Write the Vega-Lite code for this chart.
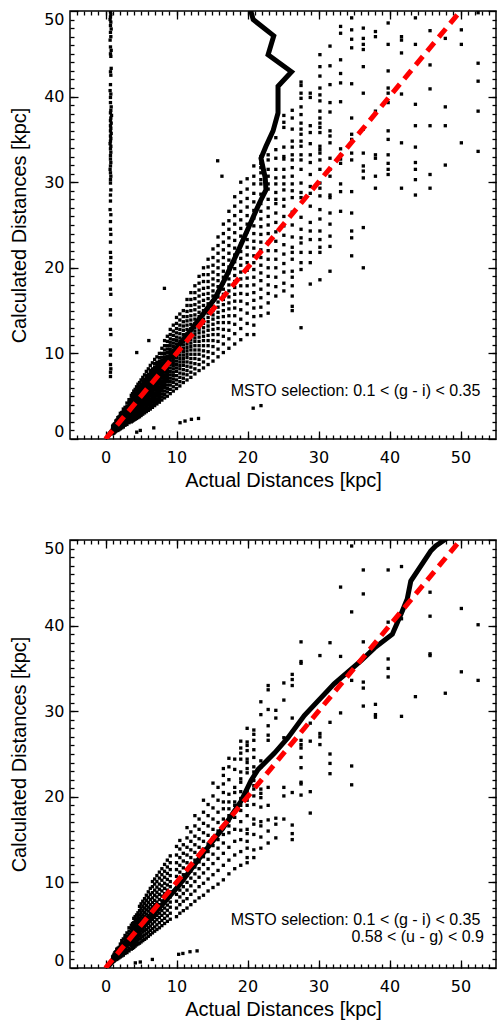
{
"$schema":"https://vega.github.io/schema/vega-lite/v6.json",
"padding":{"left":8,"top":9,"right":0,"bottom":0},
"spacing":101,
"bounds":"flush",
"config":{"view":{"stroke":"black","strokeWidth":1.5},"font":"Liberation Sans",
"axis":{"grid":false,"domain":false,"tickColor":"black","tickWidth":1.3,"labelColor":"black","titleColor":"black","labelFont":"DejaVu Sans","labelFontSize":16,"titleFont":"Liberation Sans","titleFontSize":20,"titleFontWeight":"normal"}},
"datasets":{
"top":[
{"x":0.7,"y":49.9},{"x":0.75,"y":49.6},{"x":0.7,"y":49.3},{"x":0.65,"y":49.0},{"x":0.75,"y":48.7},{"x":0.7,"y":48.3},{"x":0.8,"y":47.9},{"x":0.7,"y":47.5},{"x":0.75,"y":47.0},{"x":0.65,"y":46.6},{"x":0.7,"y":45.8},{"x":0.8,"y":45.4},{"x":0.7,"y":45.0},{"x":0.75,"y":44.7},{"x":0.8,"y":43.3},{"x":0.7,"y":42.9},{"x":0.75,"y":42.5},{"x":0.7,"y":41.4},{"x":0.65,"y":40.7},{"x":0.75,"y":40.3},{"x":0.7,"y":39.9},{"x":0.7,"y":39.3},{"x":0.8,"y":38.8},{"x":0.75,"y":38.4},{"x":0.7,"y":38.1},{"x":0.85,"y":37.8},{"x":0.75,"y":37.5},{"x":0.7,"y":37.2},{"x":0.8,"y":36.9},{"x":0.7,"y":36.6},{"x":0.75,"y":36.3},{"x":0.7,"y":36.0},{"x":0.8,"y":35.7},{"x":0.7,"y":35.4},{"x":0.75,"y":35.1},{"x":0.7,"y":34.8},{"x":0.65,"y":34.5},{"x":0.75,"y":34.2},{"x":0.7,"y":33.9},{"x":0.75,"y":33.5},{"x":0.7,"y":33.1},{"x":0.7,"y":32.7},{"x":0.75,"y":32.3},{"x":0.7,"y":31.9},{"x":0.65,"y":31.5},{"x":0.7,"y":31.1},{"x":0.75,"y":30.7},{"x":0.7,"y":30.3},{"x":0.7,"y":29.9},{"x":0.75,"y":29.1},{"x":0.7,"y":28.5},{"x":0.7,"y":27.8},{"x":0.65,"y":26.8},{"x":0.75,"y":26.2},{"x":0.7,"y":25.4},{"x":0.7,"y":24.5},{"x":0.75,"y":23.9},{"x":0.7,"y":23.0},{"x":0.7,"y":21.8},{"x":0.75,"y":21.2},{"x":0.7,"y":20.6},{"x":0.7,"y":19.8},{"x":0.65,"y":19.2},{"x":0.7,"y":18.6},{"x":0.7,"y":17.5},{"x":0.75,"y":16.9},{"x":0.7,"y":15.1},{"x":0.7,"y":14.5},{"x":0.7,"y":12.8},{"x":0.75,"y":12.2},{"x":0.7,"y":10.4},{"x":0.7,"y":9.8},{"x":0.7,"y":8.7},{"x":0.75,"y":8.2},{"x":0.7,"y":7.8},{"x":0.7,"y":7.3},
{"x":1.0,"y":0.6},{"x":1.0,"y":0.9},{"x":1.0,"y":1.2},{"x":1.0,"y":1.5},
{"x":1.1,"y":0.7},{"x":1.1,"y":1.0},{"x":1.1,"y":1.3},{"x":1.1,"y":1.6},
{"x":1.2,"y":0.7},{"x":1.2,"y":1.0},{"x":1.2,"y":1.3},{"x":1.2,"y":1.7},
{"x":1.32,"y":0.8},{"x":1.32,"y":1.1},{"x":1.32,"y":1.4},{"x":1.32,"y":1.8},
{"x":1.45,"y":0.9},{"x":1.45,"y":1.2},{"x":1.45,"y":1.5},{"x":1.45,"y":1.8},{"x":1.45,"y":2.1},
{"x":1.58,"y":1.0},{"x":1.58,"y":1.3},{"x":1.58,"y":1.6},{"x":1.58,"y":1.9},{"x":1.58,"y":2.2},
{"x":1.74,"y":1.0},{"x":1.74,"y":1.3},{"x":1.74,"y":1.6},{"x":1.74,"y":1.9},{"x":1.74,"y":2.2},{"x":1.74,"y":2.5},
{"x":1.91,"y":1.1},{"x":1.91,"y":1.4},{"x":1.91,"y":1.7},{"x":1.91,"y":2.0},{"x":1.91,"y":2.3},{"x":1.91,"y":2.6},
{"x":2.09,"y":1.2},{"x":2.09,"y":1.5},{"x":2.09,"y":1.8},{"x":2.09,"y":2.1},{"x":2.09,"y":2.4},{"x":2.09,"y":2.7},{"x":2.09,"y":3.0},
{"x":2.29,"y":1.3},{"x":2.29,"y":1.6},{"x":2.29,"y":1.9},{"x":2.29,"y":2.2},{"x":2.29,"y":2.5},{"x":2.29,"y":2.8},{"x":2.29,"y":3.1},
{"x":2.51,"y":1.4},{"x":2.51,"y":1.7},{"x":2.51,"y":2.0},{"x":2.51,"y":2.3},{"x":2.51,"y":2.6},{"x":2.51,"y":2.9},{"x":2.51,"y":3.2},{"x":2.51,"y":3.5},
{"x":2.75,"y":1.6},{"x":2.75,"y":1.9},{"x":2.75,"y":2.2},{"x":2.75,"y":2.5},{"x":2.75,"y":2.8},{"x":2.75,"y":3.1},{"x":2.75,"y":3.4},{"x":2.75,"y":3.7},
{"x":3.02,"y":1.7},{"x":3.02,"y":2.0},{"x":3.02,"y":2.3},{"x":3.02,"y":2.6},{"x":3.02,"y":2.9},{"x":3.02,"y":3.2},{"x":3.02,"y":3.5},{"x":3.02,"y":3.8},{"x":3.02,"y":4.2},
{"x":3.31,"y":1.9},{"x":3.31,"y":2.2},{"x":3.31,"y":2.5},{"x":3.31,"y":2.8},{"x":3.31,"y":3.1},{"x":3.31,"y":3.4},{"x":3.31,"y":3.7},{"x":3.31,"y":4.0},{"x":3.31,"y":4.3},{"x":3.31,"y":4.6},
{"x":3.63,"y":2.0},{"x":3.63,"y":2.3},{"x":3.63,"y":2.6},{"x":3.63,"y":2.9},{"x":3.63,"y":3.2},{"x":3.63,"y":3.5},{"x":3.63,"y":3.8},{"x":3.63,"y":4.1},{"x":3.63,"y":4.4},{"x":3.63,"y":4.7},{"x":3.63,"y":5.1},
{"x":3.8,"y":2.1},{"x":3.8,"y":2.45},{"x":3.8,"y":2.75},{"x":3.8,"y":3.05},{"x":3.8,"y":3.35},{"x":3.8,"y":3.65},{"x":3.8,"y":3.95},{"x":3.8,"y":4.25},{"x":3.8,"y":4.55},{"x":3.8,"y":4.85},{"x":3.8,"y":5.3},
{"x":3.98,"y":2.2},{"x":3.98,"y":2.5},{"x":3.98,"y":2.8},{"x":3.98,"y":3.1},{"x":3.98,"y":3.4},{"x":3.98,"y":3.7},{"x":3.98,"y":4.0},{"x":3.98,"y":4.3},{"x":3.98,"y":4.6},{"x":3.98,"y":4.9},{"x":3.98,"y":5.2},{"x":3.98,"y":5.6},
{"x":4.17,"y":2.3},{"x":4.17,"y":2.6},{"x":4.17,"y":2.9},{"x":4.17,"y":3.2},{"x":4.17,"y":3.5},{"x":4.17,"y":3.8},{"x":4.17,"y":4.1},{"x":4.17,"y":4.4},{"x":4.17,"y":4.7},{"x":4.17,"y":5.0},{"x":4.17,"y":5.3},{"x":4.17,"y":5.8},
{"x":4.37,"y":2.4},{"x":4.37,"y":2.7},{"x":4.37,"y":3.0},{"x":4.37,"y":3.3},{"x":4.37,"y":3.6},{"x":4.37,"y":3.9},{"x":4.37,"y":4.2},{"x":4.37,"y":4.5},{"x":4.37,"y":4.8},{"x":4.37,"y":5.1},{"x":4.37,"y":5.4},{"x":4.37,"y":5.7},{"x":4.37,"y":6.1},
{"x":4.57,"y":2.5},{"x":4.57,"y":2.85},{"x":4.57,"y":3.15},{"x":4.57,"y":3.45},{"x":4.57,"y":3.75},{"x":4.57,"y":4.05},{"x":4.57,"y":4.35},{"x":4.57,"y":4.65},{"x":4.57,"y":4.95},{"x":4.57,"y":5.25},{"x":4.57,"y":5.55},{"x":4.57,"y":5.85},{"x":4.57,"y":6.4},
{"x":4.79,"y":2.6},{"x":4.79,"y":2.9},{"x":4.79,"y":3.2},{"x":4.79,"y":3.5},{"x":4.79,"y":3.8},{"x":4.79,"y":4.1},{"x":4.79,"y":4.4},{"x":4.79,"y":4.7},{"x":4.79,"y":5.0},{"x":4.79,"y":5.3},{"x":4.79,"y":5.6},{"x":4.79,"y":5.9},{"x":4.79,"y":6.2},{"x":4.79,"y":6.6},
{"x":5.01,"y":2.75},{"x":5.01,"y":3.05},{"x":5.01,"y":3.35},{"x":5.01,"y":3.65},{"x":5.01,"y":3.95},{"x":5.01,"y":4.25},{"x":5.01,"y":4.55},{"x":5.01,"y":4.85},{"x":5.01,"y":5.15},{"x":5.01,"y":5.45},{"x":5.01,"y":5.75},{"x":5.01,"y":6.05},{"x":5.01,"y":6.35},{"x":5.01,"y":6.9},
{"x":5.25,"y":2.9},{"x":5.25,"y":3.2},{"x":5.25,"y":3.5},{"x":5.25,"y":3.8},{"x":5.25,"y":4.1},{"x":5.25,"y":4.4},{"x":5.25,"y":4.7},{"x":5.25,"y":5.0},{"x":5.25,"y":5.3},{"x":5.25,"y":5.6},{"x":5.25,"y":5.9},{"x":5.25,"y":6.2},{"x":5.25,"y":6.5},{"x":5.25,"y":6.8},{"x":5.25,"y":7.2},
{"x":5.5,"y":3.05},{"x":5.5,"y":3.35},{"x":5.5,"y":3.65},{"x":5.5,"y":3.95},{"x":5.5,"y":4.25},{"x":5.5,"y":4.55},{"x":5.5,"y":4.85},{"x":5.5,"y":5.15},{"x":5.5,"y":5.45},{"x":5.5,"y":5.75},{"x":5.5,"y":6.05},{"x":5.5,"y":6.35},{"x":5.5,"y":6.65},{"x":5.5,"y":6.95},{"x":5.5,"y":7.5},
{"x":5.75,"y":3.2},{"x":5.75,"y":3.5},{"x":5.75,"y":3.8},{"x":5.75,"y":4.1},{"x":5.75,"y":4.4},{"x":5.75,"y":4.7},{"x":5.75,"y":5.0},{"x":5.75,"y":5.3},{"x":5.75,"y":5.6},{"x":5.75,"y":5.9},{"x":5.75,"y":6.2},{"x":5.75,"y":6.5},{"x":5.75,"y":6.8},{"x":5.75,"y":7.1},{"x":5.75,"y":7.4},{"x":5.75,"y":7.9},
{"x":6.03,"y":3.35},{"x":6.03,"y":3.65},{"x":6.03,"y":3.95},{"x":6.03,"y":4.25},{"x":6.03,"y":4.55},{"x":6.03,"y":4.85},{"x":6.03,"y":5.15},{"x":6.03,"y":5.45},{"x":6.03,"y":5.75},{"x":6.03,"y":6.05},{"x":6.03,"y":6.35},{"x":6.03,"y":6.65},{"x":6.03,"y":6.95},{"x":6.03,"y":7.25},{"x":6.03,"y":7.55},{"x":6.03,"y":8.2},
{"x":6.31,"y":3.5},{"x":6.31,"y":3.8},{"x":6.31,"y":4.1},{"x":6.31,"y":4.4},{"x":6.31,"y":4.7},{"x":6.31,"y":5.0},{"x":6.31,"y":5.3},{"x":6.31,"y":5.6},{"x":6.31,"y":5.9},{"x":6.31,"y":6.2},{"x":6.31,"y":6.5},{"x":6.31,"y":6.8},{"x":6.31,"y":7.1},{"x":6.31,"y":7.4},{"x":6.31,"y":7.7},{"x":6.31,"y":8.0},{"x":6.31,"y":8.6},
{"x":6.61,"y":3.7},{"x":6.61,"y":4.0},{"x":6.61,"y":4.3},{"x":6.61,"y":4.6},{"x":6.61,"y":4.9},{"x":6.61,"y":5.2},{"x":6.61,"y":5.5},{"x":6.61,"y":5.8},{"x":6.61,"y":6.1},{"x":6.61,"y":6.4},{"x":6.61,"y":6.7},{"x":6.61,"y":7.0},{"x":6.61,"y":7.3},{"x":6.61,"y":7.6},{"x":6.61,"y":7.9},{"x":6.61,"y":8.2},{"x":6.61,"y":8.9},
{"x":6.92,"y":3.9},{"x":6.92,"y":4.2},{"x":6.92,"y":4.5},{"x":6.92,"y":4.8},{"x":6.92,"y":5.1},{"x":6.92,"y":5.4},{"x":6.92,"y":5.7},{"x":6.92,"y":6.0},{"x":6.92,"y":6.3},{"x":6.92,"y":6.6},{"x":6.92,"y":6.9},{"x":6.92,"y":7.2},{"x":6.92,"y":7.5},{"x":6.92,"y":7.8},{"x":6.92,"y":8.1},{"x":6.92,"y":8.4},{"x":6.92,"y":8.8},{"x":6.92,"y":9.3},
{"x":7.24,"y":4.1},{"x":7.24,"y":4.4},{"x":7.24,"y":4.7},{"x":7.24,"y":5.0},{"x":7.24,"y":5.3},{"x":7.24,"y":5.6},{"x":7.24,"y":5.9},{"x":7.24,"y":6.2},{"x":7.24,"y":6.5},{"x":7.24,"y":6.8},{"x":7.24,"y":7.1},{"x":7.24,"y":7.4},{"x":7.24,"y":7.7},{"x":7.24,"y":8.0},{"x":7.24,"y":8.3},{"x":7.24,"y":8.6},{"x":7.24,"y":8.95},{"x":7.24,"y":9.6},
{"x":7.59,"y":4.3},{"x":7.59,"y":4.6},{"x":7.59,"y":4.9},{"x":7.59,"y":5.2},{"x":7.59,"y":5.5},{"x":7.59,"y":5.8},{"x":7.59,"y":6.1},{"x":7.59,"y":6.4},{"x":7.59,"y":6.7},{"x":7.59,"y":7.0},{"x":7.59,"y":7.3},{"x":7.59,"y":7.6},{"x":7.59,"y":7.9},{"x":7.59,"y":8.2},{"x":7.59,"y":8.5},{"x":7.59,"y":8.8},{"x":7.59,"y":9.1},{"x":7.59,"y":9.5},{"x":7.59,"y":10.0},
{"x":7.94,"y":4.55},{"x":7.94,"y":4.9},{"x":7.94,"y":5.25},{"x":7.94,"y":5.6},{"x":7.94,"y":5.9},{"x":7.94,"y":6.2},{"x":7.94,"y":6.5},{"x":7.94,"y":6.8},{"x":7.94,"y":7.1},{"x":7.94,"y":7.4},{"x":7.94,"y":7.7},{"x":7.94,"y":8.0},{"x":7.94,"y":8.3},{"x":7.94,"y":8.6},{"x":7.94,"y":8.9},{"x":7.94,"y":9.2},{"x":7.94,"y":9.55},{"x":7.94,"y":10.0},{"x":7.94,"y":10.6},
{"x":8.32,"y":4.8},{"x":8.32,"y":5.2},{"x":8.32,"y":5.6},{"x":8.32,"y":6.0},{"x":8.32,"y":6.3},{"x":8.32,"y":6.6},{"x":8.32,"y":6.9},{"x":8.32,"y":7.2},{"x":8.32,"y":7.5},{"x":8.32,"y":7.8},{"x":8.32,"y":8.1},{"x":8.32,"y":8.4},{"x":8.32,"y":8.7},{"x":8.32,"y":9.0},{"x":8.32,"y":9.3},{"x":8.32,"y":9.6},{"x":8.32,"y":10.0},{"x":8.32,"y":10.4},{"x":8.32,"y":10.9},{"x":8.32,"y":11.5},
{"x":8.71,"y":5.0},{"x":8.71,"y":5.5},{"x":8.71,"y":5.9},{"x":8.71,"y":6.3},{"x":8.71,"y":6.7},{"x":8.71,"y":7.0},{"x":8.71,"y":7.3},{"x":8.71,"y":7.6},{"x":8.71,"y":7.9},{"x":8.71,"y":8.2},{"x":8.71,"y":8.5},{"x":8.71,"y":8.8},{"x":8.71,"y":9.1},{"x":8.71,"y":9.4},{"x":8.71,"y":9.7},{"x":8.71,"y":10.1},{"x":8.71,"y":10.5},{"x":8.71,"y":10.9},{"x":8.71,"y":11.4},{"x":8.71,"y":12.0},
{"x":9.12,"y":5.3},{"x":9.12,"y":5.8},{"x":9.12,"y":6.3},{"x":9.12,"y":6.7},{"x":9.12,"y":7.1},{"x":9.12,"y":7.5},{"x":9.12,"y":7.9},{"x":9.12,"y":8.3},{"x":9.12,"y":8.7},{"x":9.12,"y":9.0},{"x":9.12,"y":9.3},{"x":9.12,"y":9.6},{"x":9.12,"y":9.9},{"x":9.12,"y":10.2},{"x":9.12,"y":10.5},{"x":9.12,"y":10.9},{"x":9.12,"y":11.3},{"x":9.12,"y":11.7},{"x":9.12,"y":12.2},{"x":9.12,"y":12.8},
{"x":9.55,"y":5.6},{"x":9.55,"y":6.1},{"x":9.55,"y":6.6},{"x":9.55,"y":7.0},{"x":9.55,"y":7.4},{"x":9.55,"y":7.8},{"x":9.55,"y":8.2},{"x":9.55,"y":8.6},{"x":9.55,"y":8.9},{"x":9.55,"y":9.2},{"x":9.55,"y":9.5},{"x":9.55,"y":9.8},{"x":9.55,"y":10.1},{"x":9.55,"y":10.4},{"x":9.55,"y":10.8},{"x":9.55,"y":11.2},{"x":9.55,"y":11.6},{"x":9.55,"y":12.1},{"x":9.55,"y":12.6},{"x":9.55,"y":13.3},
{"x":10.0,"y":5.9},{"x":10.0,"y":6.4},{"x":10.0,"y":6.9},{"x":10.0,"y":7.4},{"x":10.0,"y":7.9},{"x":10.0,"y":8.3},{"x":10.0,"y":8.7},{"x":10.0,"y":9.1},{"x":10.0,"y":9.5},{"x":10.0,"y":9.9},{"x":10.0,"y":10.3},{"x":10.0,"y":10.7},{"x":10.0,"y":11.1},{"x":10.0,"y":11.5},{"x":10.0,"y":11.9},{"x":10.0,"y":12.4},{"x":10.0,"y":12.9},{"x":10.0,"y":13.5},{"x":10.0,"y":14.2},
{"x":10.47,"y":6.2},{"x":10.47,"y":6.7},{"x":10.47,"y":7.2},{"x":10.47,"y":7.7},{"x":10.47,"y":8.2},{"x":10.47,"y":8.6},{"x":10.47,"y":9.0},{"x":10.47,"y":9.4},{"x":10.47,"y":9.8},{"x":10.47,"y":10.2},{"x":10.47,"y":10.6},{"x":10.47,"y":11.0},{"x":10.47,"y":11.4},{"x":10.47,"y":11.8},{"x":10.47,"y":12.3},{"x":10.47,"y":12.8},{"x":10.47,"y":13.3},{"x":10.47,"y":13.9},{"x":10.47,"y":14.6},
{"x":10.96,"y":6.6},{"x":10.96,"y":7.1},{"x":10.96,"y":7.6},{"x":10.96,"y":8.1},{"x":10.96,"y":8.6},{"x":10.96,"y":9.0},{"x":10.96,"y":9.4},{"x":10.96,"y":9.8},{"x":10.96,"y":10.2},{"x":10.96,"y":10.6},{"x":10.96,"y":11.0},{"x":10.96,"y":11.4},{"x":10.96,"y":11.8},{"x":10.96,"y":12.2},{"x":10.96,"y":12.7},{"x":10.96,"y":13.2},{"x":10.96,"y":13.7},{"x":10.96,"y":14.3},{"x":10.96,"y":15.0},
{"x":11.48,"y":6.9},{"x":11.48,"y":7.5},{"x":11.48,"y":8.0},{"x":11.48,"y":8.5},{"x":11.48,"y":9.0},{"x":11.48,"y":9.5},{"x":11.48,"y":9.9},{"x":11.48,"y":10.3},{"x":11.48,"y":10.7},{"x":11.48,"y":11.1},{"x":11.48,"y":11.5},{"x":11.48,"y":11.9},{"x":11.48,"y":12.3},{"x":11.48,"y":12.8},{"x":11.48,"y":13.3},{"x":11.48,"y":13.8},{"x":11.48,"y":14.3},{"x":11.48,"y":14.9},{"x":11.48,"y":15.6},{"x":11.48,"y":16.3},
{"x":12.02,"y":7.2},{"x":12.02,"y":7.8},{"x":12.02,"y":8.4},{"x":12.02,"y":8.9},{"x":12.02,"y":9.4},{"x":12.02,"y":9.9},{"x":12.02,"y":10.4},{"x":12.02,"y":10.8},{"x":12.02,"y":11.2},{"x":12.02,"y":11.6},{"x":12.02,"y":12.0},{"x":12.02,"y":12.4},{"x":12.02,"y":12.9},{"x":12.02,"y":13.4},{"x":12.02,"y":13.9},{"x":12.02,"y":14.4},{"x":12.02,"y":15.0},{"x":12.02,"y":15.6},{"x":12.02,"y":16.3},{"x":12.02,"y":17.1},
{"x":12.59,"y":7.6},{"x":12.59,"y":8.2},{"x":12.59,"y":8.8},{"x":12.59,"y":9.4},{"x":12.59,"y":9.9},{"x":12.59,"y":10.4},{"x":12.59,"y":10.9},{"x":12.59,"y":11.4},{"x":12.59,"y":11.8},{"x":12.59,"y":12.2},{"x":12.59,"y":12.6},{"x":12.59,"y":13.0},{"x":12.59,"y":13.5},{"x":12.59,"y":14.0},{"x":12.59,"y":14.5},{"x":12.59,"y":15.1},{"x":12.59,"y":15.7},{"x":12.59,"y":16.4},{"x":12.59,"y":17.1},{"x":12.59,"y":17.9},
{"x":13.18,"y":8.0},{"x":13.18,"y":8.7},{"x":13.18,"y":9.3},{"x":13.18,"y":9.9},{"x":13.18,"y":10.4},{"x":13.18,"y":10.9},{"x":13.18,"y":11.4},{"x":13.18,"y":11.9},{"x":13.18,"y":12.4},{"x":13.18,"y":12.8},{"x":13.18,"y":13.3},{"x":13.18,"y":13.8},{"x":13.18,"y":14.3},{"x":13.18,"y":14.8},{"x":13.18,"y":15.4},{"x":13.18,"y":16.0},{"x":13.18,"y":16.7},{"x":13.18,"y":17.4},{"x":13.18,"y":18.2},{"x":13.18,"y":19.0},
{"x":13.8,"y":8.3},{"x":13.8,"y":9.0},{"x":13.8,"y":9.7},{"x":13.8,"y":10.3},{"x":13.8,"y":10.9},{"x":13.8,"y":11.5},{"x":13.8,"y":12.0},{"x":13.8,"y":12.5},{"x":13.8,"y":13.0},{"x":13.8,"y":13.5},{"x":13.8,"y":14.0},{"x":13.8,"y":14.5},{"x":13.8,"y":15.0},{"x":13.8,"y":15.6},{"x":13.8,"y":16.2},{"x":13.8,"y":16.9},{"x":13.8,"y":17.6},{"x":13.8,"y":18.4},{"x":13.8,"y":19.2},{"x":13.8,"y":20.0},
{"x":14.45,"y":8.7},{"x":14.45,"y":9.5},{"x":14.45,"y":10.2},{"x":14.45,"y":10.9},{"x":14.45,"y":11.5},{"x":14.45,"y":12.1},{"x":14.45,"y":12.7},{"x":14.45,"y":13.2},{"x":14.45,"y":13.7},{"x":14.45,"y":14.2},{"x":14.45,"y":14.7},{"x":14.45,"y":15.2},{"x":14.45,"y":15.8},{"x":14.45,"y":16.4},{"x":14.45,"y":17.0},{"x":14.45,"y":17.7},{"x":14.45,"y":18.4},{"x":14.45,"y":19.2},{"x":14.45,"y":20.1},{"x":14.45,"y":21.0},
{"x":15.14,"y":9.1},{"x":15.14,"y":10.0},{"x":15.14,"y":10.8},{"x":15.14,"y":11.5},{"x":15.14,"y":12.2},{"x":15.14,"y":12.8},{"x":15.14,"y":13.4},{"x":15.14,"y":14.0},{"x":15.14,"y":14.5},{"x":15.14,"y":15.0},{"x":15.14,"y":15.5},{"x":15.14,"y":16.1},{"x":15.14,"y":16.7},{"x":15.14,"y":17.3},{"x":15.14,"y":18.0},{"x":15.14,"y":18.7},{"x":15.14,"y":19.5},{"x":15.14,"y":20.3},{"x":15.14,"y":21.2},{"x":15.14,"y":22.2},
{"x":15.85,"y":9.6},{"x":15.85,"y":10.5},{"x":15.85,"y":11.4},{"x":15.85,"y":12.2},{"x":15.85,"y":12.9},{"x":15.85,"y":13.6},{"x":15.85,"y":14.2},{"x":15.85,"y":14.8},{"x":15.85,"y":15.4},{"x":15.85,"y":16.0},{"x":15.85,"y":16.6},{"x":15.85,"y":17.2},{"x":15.85,"y":17.8},{"x":15.85,"y":18.5},{"x":15.85,"y":19.2},{"x":15.85,"y":20.0},{"x":15.85,"y":20.8},{"x":15.85,"y":21.7},{"x":15.85,"y":22.6},{"x":15.85,"y":23.6},
{"x":16.6,"y":10.1},{"x":16.6,"y":11.1},{"x":16.6,"y":12.0},{"x":16.6,"y":12.8},{"x":16.6,"y":13.6},{"x":16.6,"y":14.3},{"x":16.6,"y":15.0},{"x":16.6,"y":15.7},{"x":16.6,"y":16.3},{"x":16.6,"y":16.9},{"x":16.6,"y":17.5},{"x":16.6,"y":18.2},{"x":16.6,"y":18.9},{"x":16.6,"y":19.6},{"x":16.6,"y":20.4},{"x":16.6,"y":21.2},{"x":16.6,"y":22.1},{"x":16.6,"y":23.0},{"x":16.6,"y":24.0},{"x":16.6,"y":25.1},
{"x":17.38,"y":10.6},{"x":17.38,"y":11.7},{"x":17.38,"y":12.7},{"x":17.38,"y":13.6},{"x":17.38,"y":14.4},{"x":17.38,"y":15.2},{"x":17.38,"y":15.9},{"x":17.38,"y":16.6},{"x":17.38,"y":17.3},{"x":17.38,"y":18.0},{"x":17.38,"y":18.7},{"x":17.38,"y":19.4},{"x":17.38,"y":20.1},{"x":17.38,"y":20.9},{"x":17.38,"y":21.7},{"x":17.38,"y":22.6},{"x":17.38,"y":23.5},{"x":17.38,"y":24.5},{"x":17.38,"y":25.5},{"x":17.38,"y":26.6},
{"x":18.2,"y":11.1},{"x":18.2,"y":12.3},{"x":18.2,"y":13.4},{"x":18.2,"y":14.4},{"x":18.2,"y":15.3},{"x":18.2,"y":16.1},{"x":18.2,"y":16.9},{"x":18.2,"y":17.7},{"x":18.2,"y":18.4},{"x":18.2,"y":19.1},{"x":18.2,"y":19.9},{"x":18.2,"y":20.7},{"x":18.2,"y":21.5},{"x":18.2,"y":22.3},{"x":18.2,"y":23.2},{"x":18.2,"y":24.1},{"x":18.2,"y":25.1},{"x":18.2,"y":26.1},{"x":18.2,"y":27.2},{"x":18.2,"y":28.3},
{"x":19.05,"y":11.6},{"x":19.05,"y":12.9},{"x":19.05,"y":14.0},{"x":19.05,"y":15.1},{"x":19.05,"y":16.1},{"x":19.05,"y":17.0},{"x":19.05,"y":17.9},{"x":19.05,"y":18.7},{"x":19.05,"y":19.5},{"x":19.05,"y":20.3},{"x":19.05,"y":21.1},{"x":19.05,"y":21.9},{"x":19.05,"y":22.8},{"x":19.05,"y":23.7},{"x":19.05,"y":24.6},{"x":19.05,"y":25.6},{"x":19.05,"y":26.6},{"x":19.05,"y":27.7},{"x":19.05,"y":28.8},{"x":19.05,"y":30.0},
{"x":19.95,"y":12.2},{"x":19.95,"y":13.5},{"x":19.95,"y":14.7},{"x":19.95,"y":15.8},{"x":19.95,"y":16.9},{"x":19.95,"y":17.9},{"x":19.95,"y":18.8},{"x":19.95,"y":19.7},{"x":19.95,"y":20.6},{"x":19.95,"y":21.5},{"x":19.95,"y":22.4},{"x":19.95,"y":23.3},{"x":19.95,"y":24.2},{"x":19.95,"y":25.1},{"x":19.95,"y":26.1},{"x":19.95,"y":27.1},{"x":19.95,"y":28.1},{"x":19.95,"y":29.2},{"x":19.95,"y":30.4},
{"x":20.89,"y":12.2},{"x":20.89,"y":13.3},{"x":20.89,"y":14.3},{"x":20.89,"y":15.3},{"x":20.89,"y":16.2},{"x":20.89,"y":17.1},{"x":20.89,"y":18.0},{"x":20.89,"y":18.9},{"x":20.89,"y":19.8},{"x":20.89,"y":20.6},{"x":20.89,"y":21.4},{"x":20.89,"y":22.3},{"x":20.89,"y":23.1},{"x":20.89,"y":24.0},{"x":20.89,"y":24.9},{"x":20.89,"y":25.8},{"x":20.89,"y":26.7},{"x":20.89,"y":27.7},{"x":20.89,"y":28.7},{"x":20.89,"y":29.8},{"x":20.89,"y":30.7},{"x":20.89,"y":31.9},
{"x":21.88,"y":14.4},{"x":21.88,"y":15.4},{"x":21.88,"y":16.5},{"x":21.88,"y":17.5},{"x":21.88,"y":18.5},{"x":21.88,"y":19.4},{"x":21.88,"y":20.3},{"x":21.88,"y":21.2},{"x":21.88,"y":22.1},{"x":21.88,"y":23.0},{"x":21.88,"y":23.9},{"x":21.88,"y":24.8},{"x":21.88,"y":25.7},{"x":21.88,"y":26.6},{"x":21.88,"y":27.5},{"x":21.88,"y":28.6},{"x":21.88,"y":29.8},{"x":21.88,"y":30.3},{"x":21.88,"y":31.1},{"x":21.88,"y":31.7},{"x":21.88,"y":32.2},{"x":21.88,"y":33.0},
{"x":22.91,"y":14.7},{"x":22.91,"y":15.9},{"x":22.91,"y":17.0},{"x":22.91,"y":18.0},{"x":22.91,"y":19.0},{"x":22.91,"y":20.0},{"x":22.91,"y":21.0},{"x":22.91,"y":22.0},{"x":22.91,"y":23.0},{"x":22.91,"y":24.0},{"x":22.91,"y":25.0},{"x":22.91,"y":26.0},{"x":22.91,"y":27.0},{"x":22.91,"y":28.0},{"x":22.91,"y":29.2},{"x":22.91,"y":29.8},{"x":22.91,"y":30.7},{"x":22.91,"y":31.5},{"x":22.91,"y":32.6},{"x":22.91,"y":33.2},
{"x":23.99,"y":16.7},{"x":23.99,"y":17.8},{"x":23.99,"y":18.9},{"x":23.99,"y":20.0},{"x":23.99,"y":21.0},{"x":23.99,"y":22.0},{"x":23.99,"y":23.1},{"x":23.99,"y":24.2},{"x":23.99,"y":25.3},{"x":23.99,"y":26.4},{"x":23.99,"y":27.5},{"x":23.99,"y":28.0},{"x":23.99,"y":28.8},{"x":23.99,"y":29.8},{"x":23.99,"y":30.5},{"x":23.99,"y":31.5},{"x":23.99,"y":32.8},{"x":23.99,"y":33.8},{"x":23.99,"y":35.2},
{"x":25.12,"y":17.3},{"x":25.12,"y":18.2},{"x":25.12,"y":19.5},{"x":25.12,"y":20.5},{"x":25.12,"y":21.6},{"x":25.12,"y":22.7},{"x":25.12,"y":23.8},{"x":25.12,"y":24.9},{"x":25.12,"y":26.0},{"x":25.12,"y":27.2},{"x":25.12,"y":28.0},{"x":25.12,"y":29.1},{"x":25.12,"y":29.8},{"x":25.12,"y":30.6},{"x":25.12,"y":31.5},{"x":25.12,"y":32.7},{"x":25.12,"y":33.0},{"x":25.12,"y":34.1},{"x":25.12,"y":36.4},{"x":25.12,"y":37.0},{"x":25.12,"y":37.8},
{"x":26.3,"y":15.0},{"x":26.3,"y":15.5},{"x":26.3,"y":16.7},{"x":26.3,"y":17.9},{"x":26.3,"y":18.9},{"x":26.3,"y":19.6},{"x":26.3,"y":21.0},{"x":26.3,"y":21.8},{"x":26.3,"y":22.4},{"x":26.3,"y":23.6},{"x":26.3,"y":25.0},{"x":26.3,"y":26.5},{"x":26.3,"y":28.2},{"x":26.3,"y":29.0},{"x":26.3,"y":29.8},{"x":26.3,"y":30.7},{"x":26.3,"y":31.7},{"x":26.3,"y":32.6},{"x":26.3,"y":33.2},{"x":26.3,"y":34.1},{"x":26.3,"y":34.8},{"x":26.3,"y":36.2},{"x":26.3,"y":37.5},{"x":26.3,"y":38.4},
{"x":27.54,"y":13.0},{"x":27.54,"y":19.8},{"x":27.54,"y":20.6},{"x":27.54,"y":21.8},{"x":27.54,"y":22.9},{"x":27.54,"y":23.5},{"x":27.54,"y":24.5},{"x":27.54,"y":25.9},{"x":27.54,"y":28.2},{"x":27.54,"y":28.8},{"x":27.54,"y":29.9},{"x":27.54,"y":31.5},{"x":27.54,"y":32.6},{"x":27.54,"y":33.2},{"x":27.54,"y":34.2},{"x":27.54,"y":34.8},{"x":27.54,"y":35.6},{"x":27.54,"y":36.2},{"x":27.54,"y":36.9},{"x":27.54,"y":37.9},{"x":27.54,"y":38.8},{"x":27.54,"y":39.8},{"x":27.54,"y":40.4},{"x":27.54,"y":41.3},{"x":27.54,"y":41.7},
{"x":28.84,"y":18.1},{"x":28.84,"y":20.6},{"x":28.84,"y":21.8},{"x":28.84,"y":23.3},{"x":28.84,"y":24.3},{"x":28.84,"y":25.3},{"x":28.84,"y":27.2},{"x":28.84,"y":28.7},{"x":28.84,"y":29.5},{"x":28.84,"y":30.9},{"x":28.84,"y":32.3},{"x":28.84,"y":33.2},{"x":28.84,"y":34.5},{"x":28.84,"y":35.8},{"x":28.84,"y":36.6},{"x":28.84,"y":39.9},{"x":28.84,"y":40.4},
{"x":30.2,"y":18.6},{"x":30.2,"y":21.8},{"x":30.2,"y":22.4},{"x":30.2,"y":23.3},{"x":30.2,"y":24.3},{"x":30.2,"y":25.7},{"x":30.2,"y":26.8},{"x":30.2,"y":28.4},{"x":30.2,"y":29.3},{"x":30.2,"y":29.9},{"x":30.2,"y":31.5},{"x":30.2,"y":32.6},{"x":30.2,"y":33.4},{"x":30.2,"y":33.8},{"x":30.2,"y":34.2},{"x":30.2,"y":35.8},{"x":30.2,"y":36.4},{"x":30.2,"y":36.9},{"x":30.2,"y":37.5},{"x":30.2,"y":38.3},{"x":30.2,"y":39.5},{"x":30.2,"y":40.2},{"x":30.2,"y":41.0},{"x":30.2,"y":42.4},{"x":30.2,"y":43.5},{"x":30.2,"y":44.9},
{"x":31.62,"y":19.6},{"x":31.62,"y":22.5},{"x":31.62,"y":23.7},{"x":31.62,"y":25.1},{"x":31.62,"y":26.4},{"x":31.62,"y":28.2},{"x":31.62,"y":28.5},{"x":31.62,"y":30.7},{"x":31.62,"y":31.5},{"x":31.62,"y":32.8},{"x":31.62,"y":34.6},{"x":31.62,"y":35.4},{"x":31.62,"y":36.0},{"x":31.62,"y":38.2},{"x":31.62,"y":39.3},{"x":31.62,"y":41.4},{"x":31.62,"y":43.6},{"x":31.62,"y":45.9},
{"x":33.11,"y":26.6},{"x":33.11,"y":28.9},{"x":33.11,"y":29.8},{"x":33.11,"y":32.2},{"x":33.11,"y":32.7},{"x":33.11,"y":33.2},{"x":33.11,"y":33.9},{"x":33.11,"y":39.4},{"x":33.11,"y":41.6},{"x":33.11,"y":42.7},{"x":33.11,"y":44.3},{"x":33.11,"y":47.4},{"x":33.11,"y":48.2},
{"x":34.67,"y":21.4},{"x":34.67,"y":23.5},{"x":34.67,"y":24.3},{"x":34.67,"y":26.4},{"x":34.67,"y":28.9},{"x":34.67,"y":32.6},{"x":34.67,"y":33.4},{"x":34.67,"y":35.0},{"x":34.67,"y":35.6},{"x":34.67,"y":37.5},{"x":34.67,"y":41.5},{"x":34.67,"y":45.7},{"x":34.67,"y":46.7},{"x":34.67,"y":47.8},{"x":34.67,"y":49.2},
{"x":36.31,"y":20.0},{"x":36.31,"y":24.7},{"x":36.31,"y":30.5},{"x":36.31,"y":31.3},{"x":36.31,"y":31.9},{"x":36.31,"y":33.4},{"x":36.31,"y":36.2},{"x":36.31,"y":40.4},{"x":36.31,"y":43.5},{"x":36.31,"y":45.5},{"x":36.31,"y":46.1},{"x":36.31,"y":46.8},{"x":36.31,"y":48.0},
{"x":38.02,"y":29.3},{"x":38.02,"y":30.7},{"x":38.02,"y":32.8},{"x":38.02,"y":33.2},{"x":38.02,"y":38.3},{"x":38.02,"y":47.0},{"x":38.02,"y":47.6},
{"x":39.81,"y":30.9},{"x":39.81,"y":31.5},{"x":39.81,"y":32.2},{"x":39.81,"y":33.2},{"x":39.81,"y":35.0},{"x":39.81,"y":36.0},{"x":39.81,"y":39.3},{"x":39.81,"y":40.4},{"x":39.81,"y":41.0},{"x":39.81,"y":43.0},{"x":39.81,"y":46.1},{"x":39.81,"y":48.6},
{"x":41.69,"y":29.3},{"x":41.69,"y":34.6},{"x":41.69,"y":40.3},{"x":41.69,"y":45.1},{"x":41.69,"y":46.6},{"x":41.69,"y":47.0},
{"x":43.65,"y":28.5},{"x":43.65,"y":30.3},{"x":43.65,"y":31.5},{"x":43.65,"y":32.3},{"x":43.65,"y":34.1},{"x":43.65,"y":36.6},{"x":43.65,"y":39.1},{"x":43.65,"y":46.1},{"x":43.65,"y":49.2},
{"x":45.71,"y":29.3},{"x":45.71,"y":30.9},{"x":45.71,"y":36.6},{"x":45.71,"y":40.9},{"x":45.71,"y":43.7},{"x":45.71,"y":47.7},
{"x":47.86,"y":32.0},{"x":47.86,"y":36.6},{"x":47.86,"y":38.8},{"x":47.86,"y":46.8},
{"x":50.12,"y":34.6},{"x":50.12,"y":46.1},{"x":50.12,"y":47.8},
{"x":52.48,"y":33.6},{"x":52.48,"y":38.3},{"x":52.48,"y":41.8},{"x":52.48,"y":43.9},{"x":52.48,"y":49.8},
{"x":15.8,"y":32.5},{"x":16.4,"y":30.7},{"x":8.3,"y":17.6},{"x":6.1,"y":11.5},{"x":4.4,"y":10.1},{"x":4.4,"y":0.8},{"x":4.9,"y":1.0},{"x":6.8,"y":1.3},{"x":10.5,"y":1.9},{"x":11.2,"y":2.1},{"x":12.1,"y":2.3},{"x":13.1,"y":2.4},{"x":20.8,"y":3.6},{"x":21.9,"y":3.9}
],
"topLine":[
{"i":0,"x":0.3,"y":0.3},{"i":1,"x":2,"y":2.1},{"i":2,"x":4,"y":4.2},{"i":3,"x":6,"y":6.3},{"i":4,"x":8,"y":8.4},{"i":5,"x":10,"y":10.6},{"i":6,"x":12,"y":12.7},{"i":7,"x":13.1,"y":13.9},{"i":8,"x":15.4,"y":16.4},{"i":9,"x":17,"y":19},{"i":10,"x":18.7,"y":22},{"i":11,"x":20.2,"y":24.8},{"i":12,"x":21.7,"y":27.6},{"i":13,"x":22.6,"y":29.1},{"i":14,"x":22.5,"y":30.5},{"i":15,"x":21.9,"y":32.8},{"i":16,"x":22.6,"y":34.2},{"i":17,"x":23.6,"y":36.0},{"i":18,"x":24.3,"y":38.1},{"i":19,"x":24.3,"y":41.2},{"i":20,"x":26.2,"y":42.9},{"i":21,"x":22.9,"y":44.9},{"i":22,"x":23.7,"y":47.1},{"i":23,"x":20.8,"y":49.0},{"i":24,"x":20.3,"y":50.5}
],
"bot":[
{"x":1.0,"y":0.7},{"x":1.0,"y":1.0},{"x":1.0,"y":1.3},
{"x":1.1,"y":0.8},{"x":1.1,"y":1.1},{"x":1.1,"y":1.4},
{"x":1.2,"y":0.8},{"x":1.2,"y":1.1},{"x":1.2,"y":1.4},{"x":1.2,"y":1.6},
{"x":1.32,"y":0.9},{"x":1.32,"y":1.2},{"x":1.32,"y":1.5},{"x":1.32,"y":1.8},
{"x":1.45,"y":1.0},{"x":1.45,"y":1.3},{"x":1.45,"y":1.6},{"x":1.45,"y":1.9},
{"x":1.58,"y":1.0},{"x":1.58,"y":1.3},{"x":1.58,"y":1.6},{"x":1.58,"y":1.9},{"x":1.58,"y":2.2},
{"x":1.74,"y":1.1},{"x":1.74,"y":1.4},{"x":1.74,"y":1.7},{"x":1.74,"y":2.0},{"x":1.74,"y":2.3},
{"x":1.91,"y":1.2},{"x":1.91,"y":1.5},{"x":1.91,"y":1.8},{"x":1.91,"y":2.1},{"x":1.91,"y":2.4},
{"x":2.09,"y":1.3},{"x":2.09,"y":1.6},{"x":2.09,"y":1.9},{"x":2.09,"y":2.2},{"x":2.09,"y":2.5},{"x":2.09,"y":2.8},
{"x":2.29,"y":1.4},{"x":2.29,"y":1.7},{"x":2.29,"y":2.0},{"x":2.29,"y":2.3},{"x":2.29,"y":2.6},{"x":2.29,"y":2.9},{"x":2.29,"y":3.2},
{"x":2.51,"y":1.5},{"x":2.51,"y":1.8},{"x":2.51,"y":2.1},{"x":2.51,"y":2.4},{"x":2.51,"y":2.7},{"x":2.51,"y":3.0},{"x":2.51,"y":3.4},
{"x":2.75,"y":1.7},{"x":2.75,"y":2.0},{"x":2.75,"y":2.3},{"x":2.75,"y":2.6},{"x":2.75,"y":2.9},{"x":2.75,"y":3.2},{"x":2.75,"y":3.5},{"x":2.75,"y":3.8},
{"x":3.02,"y":1.8},{"x":3.02,"y":2.1},{"x":3.02,"y":2.5},{"x":3.02,"y":2.8},{"x":3.02,"y":3.1},{"x":3.02,"y":3.4},{"x":3.02,"y":3.7},{"x":3.02,"y":4.1},
{"x":3.31,"y":2.0},{"x":3.31,"y":2.3},{"x":3.31,"y":2.7},{"x":3.31,"y":3.0},{"x":3.31,"y":3.3},{"x":3.31,"y":3.6},{"x":3.31,"y":3.9},{"x":3.31,"y":4.3},{"x":3.31,"y":4.7},
{"x":3.63,"y":2.2},{"x":3.63,"y":2.6},{"x":3.63,"y":2.9},{"x":3.63,"y":3.3},{"x":3.63,"y":3.6},{"x":3.63,"y":3.9},{"x":3.63,"y":4.2},{"x":3.63,"y":4.6},{"x":3.63,"y":5.0},
{"x":3.8,"y":2.3},{"x":3.8,"y":2.7},{"x":3.8,"y":3.1},{"x":3.8,"y":3.5},{"x":3.8,"y":3.8},{"x":3.8,"y":4.1},{"x":3.8,"y":4.4},{"x":3.8,"y":4.8},{"x":3.8,"y":5.2},
{"x":3.98,"y":2.4},{"x":3.98,"y":2.8},{"x":3.98,"y":3.2},{"x":3.98,"y":3.6},{"x":3.98,"y":3.9},{"x":3.98,"y":4.2},{"x":3.98,"y":4.5},{"x":3.98,"y":4.9},{"x":3.98,"y":5.3},{"x":3.98,"y":5.8},
{"x":4.17,"y":2.55},{"x":4.17,"y":2.95},{"x":4.17,"y":3.35},{"x":4.17,"y":3.75},{"x":4.17,"y":4.1},{"x":4.17,"y":4.45},{"x":4.17,"y":4.8},{"x":4.17,"y":5.2},{"x":4.17,"y":5.6},{"x":4.17,"y":6.0},
{"x":4.37,"y":2.7},{"x":4.37,"y":3.1},{"x":4.37,"y":3.5},{"x":4.37,"y":3.9},{"x":4.37,"y":4.3},{"x":4.37,"y":4.6},{"x":4.37,"y":4.9},{"x":4.37,"y":5.3},{"x":4.37,"y":5.7},{"x":4.37,"y":6.2},
{"x":4.57,"y":2.8},{"x":4.57,"y":3.25},{"x":4.57,"y":3.65},{"x":4.57,"y":4.05},{"x":4.57,"y":4.45},{"x":4.57,"y":4.8},{"x":4.57,"y":5.15},{"x":4.57,"y":5.55},{"x":4.57,"y":6.0},{"x":4.57,"y":6.45},
{"x":4.79,"y":2.9},{"x":4.79,"y":3.4},{"x":4.79,"y":3.8},{"x":4.79,"y":4.2},{"x":4.79,"y":4.6},{"x":4.79,"y":5.0},{"x":4.79,"y":5.4},{"x":4.79,"y":5.8},{"x":4.79,"y":6.2},{"x":4.79,"y":6.7},{"x":4.79,"y":7.2},
{"x":5.01,"y":3.05},{"x":5.01,"y":3.5},{"x":5.01,"y":3.95},{"x":5.01,"y":4.4},{"x":5.01,"y":4.8},{"x":5.01,"y":5.2},{"x":5.01,"y":5.6},{"x":5.01,"y":6.0},{"x":5.01,"y":6.45},{"x":5.01,"y":6.95},{"x":5.01,"y":7.5},
{"x":5.25,"y":3.2},{"x":5.25,"y":3.7},{"x":5.25,"y":4.2},{"x":5.25,"y":4.6},{"x":5.25,"y":5.0},{"x":5.25,"y":5.4},{"x":5.25,"y":5.8},{"x":5.25,"y":6.2},{"x":5.25,"y":6.7},{"x":5.25,"y":7.2},{"x":5.25,"y":7.8},
{"x":5.5,"y":3.35},{"x":5.5,"y":3.85},{"x":5.5,"y":4.35},{"x":5.5,"y":4.8},{"x":5.5,"y":5.25},{"x":5.5,"y":5.65},{"x":5.5,"y":6.05},{"x":5.5,"y":6.5},{"x":5.5,"y":7.0},{"x":5.5,"y":7.55},{"x":5.5,"y":8.1},
{"x":5.75,"y":3.5},{"x":5.75,"y":4.0},{"x":5.75,"y":4.5},{"x":5.75,"y":5.0},{"x":5.75,"y":5.5},{"x":5.75,"y":5.9},{"x":5.75,"y":6.3},{"x":5.75,"y":6.8},{"x":5.75,"y":7.3},{"x":5.75,"y":7.9},{"x":5.75,"y":8.5},
{"x":6.03,"y":3.7},{"x":6.03,"y":4.2},{"x":6.03,"y":4.7},{"x":6.03,"y":5.2},{"x":6.03,"y":5.65},{"x":6.03,"y":6.15},{"x":6.03,"y":6.65},{"x":6.03,"y":7.1},{"x":6.03,"y":7.65},{"x":6.03,"y":8.25},{"x":6.03,"y":8.9},
{"x":6.31,"y":3.9},{"x":6.31,"y":4.4},{"x":6.31,"y":4.9},{"x":6.31,"y":5.4},{"x":6.31,"y":5.9},{"x":6.31,"y":6.4},{"x":6.31,"y":6.9},{"x":6.31,"y":7.4},{"x":6.31,"y":8.0},{"x":6.31,"y":8.6},{"x":6.31,"y":9.3},
{"x":6.61,"y":4.1},{"x":6.61,"y":4.6},{"x":6.61,"y":5.15},{"x":6.61,"y":5.65},{"x":6.61,"y":6.15},{"x":6.61,"y":6.65},{"x":6.61,"y":7.15},{"x":6.61,"y":7.65},{"x":6.61,"y":8.2},{"x":6.61,"y":8.8},{"x":6.61,"y":9.5},{"x":6.61,"y":10.1},
{"x":6.92,"y":4.3},{"x":6.92,"y":4.8},{"x":6.92,"y":5.4},{"x":6.92,"y":5.9},{"x":6.92,"y":6.4},{"x":6.92,"y":6.9},{"x":6.92,"y":7.4},{"x":6.92,"y":7.9},{"x":6.92,"y":8.5},{"x":6.92,"y":9.1},{"x":6.92,"y":9.8},{"x":6.92,"y":10.4},
{"x":7.24,"y":4.5},{"x":7.24,"y":5.05},{"x":7.24,"y":5.65},{"x":7.24,"y":6.15},{"x":7.24,"y":6.65},{"x":7.24,"y":7.15},{"x":7.24,"y":7.7},{"x":7.24,"y":8.3},{"x":7.24,"y":8.85},{"x":7.24,"y":9.45},{"x":7.24,"y":10.1},{"x":7.24,"y":10.8},
{"x":7.59,"y":4.7},{"x":7.59,"y":5.3},{"x":7.59,"y":5.9},{"x":7.59,"y":6.4},{"x":7.59,"y":6.9},{"x":7.59,"y":7.4},{"x":7.59,"y":8.0},{"x":7.59,"y":8.6},{"x":7.59,"y":9.2},{"x":7.59,"y":9.8},{"x":7.59,"y":10.5},{"x":7.59,"y":11.2},
{"x":7.94,"y":4.95},{"x":7.94,"y":5.55},{"x":7.94,"y":6.15},{"x":7.94,"y":6.7},{"x":7.94,"y":7.3},{"x":7.94,"y":7.85},{"x":7.94,"y":8.4},{"x":7.94,"y":9.0},{"x":7.94,"y":9.6},{"x":7.94,"y":10.25},{"x":7.94,"y":10.9},{"x":7.94,"y":11.6},
{"x":8.32,"y":5.2},{"x":8.32,"y":5.8},{"x":8.32,"y":6.4},{"x":8.32,"y":7.0},{"x":8.32,"y":7.6},{"x":8.32,"y":8.1},{"x":8.32,"y":8.7},{"x":8.32,"y":9.3},{"x":8.32,"y":9.9},{"x":8.32,"y":10.6},{"x":8.32,"y":11.3},{"x":8.32,"y":12.1},
{"x":8.71,"y":5.45},{"x":8.71,"y":6.1},{"x":8.71,"y":6.75},{"x":8.71,"y":7.35},{"x":8.71,"y":7.95},{"x":8.71,"y":8.5},{"x":8.71,"y":9.1},{"x":8.71,"y":9.7},{"x":8.71,"y":10.35},{"x":8.71,"y":11.05},{"x":8.71,"y":11.8},{"x":8.71,"y":12.6},
{"x":9.12,"y":5.7},{"x":9.12,"y":6.4},{"x":9.12,"y":7.1},{"x":9.12,"y":7.7},{"x":9.12,"y":8.3},{"x":9.12,"y":8.9},{"x":9.12,"y":9.5},{"x":9.12,"y":10.1},{"x":9.12,"y":10.8},{"x":9.12,"y":11.5},{"x":9.12,"y":12.3},{"x":9.12,"y":13.1},
{"x":10.0,"y":6.0},{"x":10.0,"y":7.0},{"x":10.0,"y":7.8},{"x":10.0,"y":8.6},{"x":10.0,"y":9.3},{"x":10.0,"y":10.0},{"x":10.0,"y":10.7},{"x":10.0,"y":11.5},{"x":10.0,"y":12.3},{"x":10.0,"y":13.2},{"x":10.0,"y":14.2},
{"x":10.47,"y":6.4},{"x":10.47,"y":7.4},{"x":10.47,"y":8.3},{"x":10.47,"y":9.1},{"x":10.47,"y":9.8},{"x":10.47,"y":10.5},{"x":10.47,"y":11.2},{"x":10.47,"y":12.0},{"x":10.47,"y":12.9},{"x":10.47,"y":13.9},{"x":10.47,"y":14.9},
{"x":10.96,"y":6.7},{"x":10.96,"y":7.8},{"x":10.96,"y":8.7},{"x":10.96,"y":9.5},{"x":10.96,"y":10.2},{"x":10.96,"y":10.9},{"x":10.96,"y":11.7},{"x":10.96,"y":12.5},{"x":10.96,"y":13.4},{"x":10.96,"y":14.4},
{"x":11.48,"y":7.0},{"x":11.48,"y":8.1},{"x":11.48,"y":9.1},{"x":11.48,"y":10.0},{"x":11.48,"y":10.8},{"x":11.48,"y":11.5},{"x":11.48,"y":12.3},{"x":11.48,"y":13.2},{"x":11.48,"y":14.1},{"x":11.48,"y":15.2},{"x":11.48,"y":16.4},
{"x":12.02,"y":7.4},{"x":12.02,"y":8.6},{"x":12.02,"y":9.6},{"x":12.02,"y":10.5},{"x":12.02,"y":11.3},{"x":12.02,"y":12.1},{"x":12.02,"y":12.9},{"x":12.02,"y":13.8},{"x":12.02,"y":14.8},{"x":12.02,"y":15.9},
{"x":12.59,"y":7.8},{"x":12.59,"y":9.0},{"x":12.59,"y":10.1},{"x":12.59,"y":11.0},{"x":12.59,"y":11.8},{"x":12.59,"y":12.6},{"x":12.59,"y":13.5},{"x":12.59,"y":14.4},{"x":12.59,"y":15.4},{"x":12.59,"y":16.6},{"x":12.59,"y":17.8},
{"x":13.18,"y":8.2},{"x":13.18,"y":9.5},{"x":13.18,"y":10.6},{"x":13.18,"y":11.6},{"x":13.18,"y":12.4},{"x":13.18,"y":13.2},{"x":13.18,"y":14.1},{"x":13.18,"y":15.1},{"x":13.18,"y":16.2},{"x":13.18,"y":17.4},
{"x":13.8,"y":8.5},{"x":13.8,"y":9.9},{"x":13.8,"y":11.1},{"x":13.8,"y":12.1},{"x":13.8,"y":13.0},{"x":13.8,"y":13.9},{"x":13.8,"y":14.8},{"x":13.8,"y":15.8},{"x":13.8,"y":16.9},{"x":13.8,"y":18.2},{"x":13.8,"y":19.6},
{"x":14.45,"y":9.0},{"x":14.45,"y":10.4},{"x":14.45,"y":11.6},{"x":14.45,"y":12.7},{"x":14.45,"y":13.6},{"x":14.45,"y":14.5},{"x":14.45,"y":15.5},{"x":14.45,"y":16.6},{"x":14.45,"y":17.8},{"x":14.45,"y":19.1},
{"x":15.14,"y":9.4},{"x":15.14,"y":10.9},{"x":15.14,"y":12.2},{"x":15.14,"y":13.3},{"x":15.14,"y":14.3},{"x":15.14,"y":15.2},{"x":15.14,"y":16.2},{"x":15.14,"y":17.4},{"x":15.14,"y":18.7},{"x":15.14,"y":20.1},{"x":15.14,"y":21.6},
{"x":15.85,"y":9.8},{"x":15.85,"y":11.4},{"x":15.85,"y":12.8},{"x":15.85,"y":14.0},{"x":15.85,"y":15.0},{"x":15.85,"y":16.0},{"x":15.85,"y":17.0},{"x":15.85,"y":18.2},{"x":15.85,"y":19.6},{"x":15.85,"y":21.1},
{"x":16.6,"y":10.3},{"x":16.6,"y":12.0},{"x":16.6,"y":13.4},{"x":16.6,"y":14.6},{"x":16.6,"y":15.6},{"x":16.6,"y":16.3},{"x":16.6,"y":17.4},{"x":16.6,"y":18.6},{"x":16.6,"y":19.4},{"x":16.6,"y":20.5},{"x":16.6,"y":21.5},{"x":16.6,"y":22.5},{"x":16.6,"y":23.3},
{"x":17.38,"y":11.0},{"x":17.38,"y":12.6},{"x":17.38,"y":14.1},{"x":17.38,"y":15.8},{"x":17.38,"y":16.6},{"x":17.38,"y":17.2},{"x":17.38,"y":17.8},{"x":17.38,"y":18.6},{"x":17.38,"y":19.4},{"x":17.38,"y":20.3},{"x":17.38,"y":22.0},{"x":17.38,"y":23.5},{"x":17.38,"y":24.5},
{"x":18.2,"y":11.6},{"x":18.2,"y":13.2},{"x":18.2,"y":14.8},{"x":18.2,"y":16.2},{"x":18.2,"y":17.6},{"x":18.2,"y":18.2},{"x":18.2,"y":19.0},{"x":18.2,"y":19.4},{"x":18.2,"y":20.5},{"x":18.2,"y":21.1},{"x":18.2,"y":23.2},{"x":18.2,"y":24.4},
{"x":19.05,"y":12.0},{"x":19.05,"y":13.6},{"x":19.05,"y":15.0},{"x":19.05,"y":16.1},{"x":19.05,"y":17.1},{"x":19.05,"y":18.4},{"x":19.05,"y":19.0},{"x":19.05,"y":19.8},{"x":19.05,"y":20.6},{"x":19.05,"y":21.7},{"x":19.05,"y":22.1},{"x":19.05,"y":22.9},{"x":19.05,"y":24.4},{"x":19.05,"y":25.1},{"x":19.05,"y":25.7},{"x":19.05,"y":26.5},
{"x":19.95,"y":12.3},{"x":19.95,"y":12.9},{"x":19.95,"y":14.0},{"x":19.95,"y":14.8},{"x":19.95,"y":15.7},{"x":19.95,"y":16.2},{"x":19.95,"y":17.8},{"x":19.95,"y":19.0},{"x":19.95,"y":19.6},{"x":19.95,"y":20.6},{"x":19.95,"y":22.8},{"x":19.95,"y":23.3},{"x":19.95,"y":24.0},{"x":19.95,"y":24.4},{"x":19.95,"y":25.4},{"x":19.95,"y":26.0},{"x":19.95,"y":26.4},{"x":19.95,"y":28.0},
{"x":20.89,"y":12.9},{"x":20.89,"y":13.8},{"x":20.89,"y":15.6},{"x":20.89,"y":16.8},{"x":20.89,"y":17.4},{"x":20.89,"y":19.1},{"x":20.89,"y":20.1},{"x":20.89,"y":20.9},{"x":20.89,"y":21.3},{"x":20.89,"y":21.9},{"x":20.89,"y":22.9},{"x":20.89,"y":23.5},{"x":20.89,"y":24.6},{"x":20.89,"y":25.5},{"x":20.89,"y":26.6},{"x":20.89,"y":27.3},{"x":20.89,"y":27.8},
{"x":21.88,"y":14.0},{"x":21.88,"y":15.3},{"x":21.88,"y":16.6},{"x":21.88,"y":17.1},{"x":21.88,"y":18.8},{"x":21.88,"y":19.9},{"x":21.88,"y":20.4},{"x":21.88,"y":20.9},{"x":21.88,"y":23.5},{"x":21.88,"y":24.2},{"x":21.88,"y":29.6},{"x":21.88,"y":31.1},
{"x":22.91,"y":14.6},{"x":22.91,"y":16.0},{"x":22.91,"y":17.3},{"x":22.91,"y":19.0},{"x":22.91,"y":21.1},{"x":22.91,"y":26.6},{"x":22.91,"y":27.2},{"x":22.91,"y":28.3},{"x":22.91,"y":30.2},{"x":22.91,"y":32.5},{"x":22.91,"y":33.0},
{"x":23.99,"y":15.2},{"x":23.99,"y":16.8},{"x":23.99,"y":17.5},{"x":23.99,"y":29.2},{"x":23.99,"y":30.1},
{"x":25.12,"y":17.4},{"x":25.12,"y":20.1},{"x":25.12,"y":21.1},{"x":25.12,"y":26.9},{"x":25.12,"y":31.3},{"x":25.12,"y":33.3},
{"x":26.3,"y":15.0},{"x":26.3,"y":15.7},{"x":26.3,"y":16.7},{"x":26.3,"y":20.5},{"x":26.3,"y":29.2},{"x":26.3,"y":33.0},{"x":26.3,"y":33.7},{"x":26.3,"y":34.3},
{"x":27.54,"y":20.2},{"x":27.54,"y":21.5},{"x":27.54,"y":21.7},{"x":27.54,"y":23.4},{"x":27.54,"y":24.6},{"x":27.54,"y":25.7},{"x":27.54,"y":26.1},{"x":27.54,"y":26.6},{"x":27.54,"y":35.6},{"x":27.54,"y":35.8},{"x":27.54,"y":38.1},
{"x":28.84,"y":18.1},{"x":28.84,"y":20.6},{"x":28.84,"y":26.5},{"x":28.84,"y":28.6},
{"x":30.2,"y":26.1},{"x":30.2,"y":27.0},{"x":30.2,"y":27.4},{"x":30.2,"y":36.5},
{"x":31.62,"y":22.7},{"x":31.62,"y":23.9},{"x":31.62,"y":25.0},{"x":31.62,"y":28.7},{"x":31.62,"y":38.0},
{"x":33.11,"y":29.8},{"x":33.11,"y":36.4},{"x":33.11,"y":44.5},
{"x":34.67,"y":21.4},{"x":34.67,"y":23.6},{"x":34.67,"y":33.6},{"x":34.67,"y":41.6},{"x":34.67,"y":49.3},
{"x":36.31,"y":30.6},{"x":36.31,"y":32.7},{"x":36.31,"y":33.4},{"x":36.31,"y":38.1},{"x":36.31,"y":43.7},{"x":36.31,"y":46.5},
{"x":38.02,"y":29.3},{"x":38.02,"y":29.6},{"x":38.02,"y":30.8},
{"x":39.81,"y":34.0},{"x":39.81,"y":35.0},{"x":39.81,"y":36.1},{"x":39.81,"y":40.4},{"x":39.81,"y":46.5},
{"x":41.69,"y":29.4},{"x":41.69,"y":40.8},{"x":41.69,"y":46.9},
{"x":43.65,"y":31.7},
{"x":45.71,"y":36.5},{"x":45.71,"y":36.7},{"x":45.71,"y":41.1},{"x":45.71,"y":43.9},
{"x":47.86,"y":32.1},
{"x":50.12,"y":34.6},{"x":50.12,"y":42.0},
{"x":52.48,"y":33.6},{"x":52.48,"y":40.1},
{"x":4.2,"y":0.6},{"x":4.9,"y":0.7},{"x":6.6,"y":1.0},{"x":10.3,"y":1.6},{"x":10.9,"y":1.7},{"x":11.9,"y":1.9},{"x":12.9,"y":2.0}
],
"botLine":[
{"i":0,"x":0.2,"y":0.0},{"i":1,"x":3,"y":2.7},{"i":2,"x":6,"y":5.5},{"i":3,"x":8,"y":7.4},{"i":4,"x":10.3,"y":9.6},{"i":5,"x":13.5,"y":13.1},{"i":6,"x":16.5,"y":16.3},{"i":7,"x":19.1,"y":19.5},{"i":8,"x":20.5,"y":21.9},{"i":9,"x":21.5,"y":23.2},{"i":10,"x":23.8,"y":25.1},{"i":11,"x":25.7,"y":26.9},{"i":12,"x":28,"y":29.5},{"i":13,"x":32.2,"y":33.2},{"i":14,"x":36,"y":35.9},{"i":15,"x":37.9,"y":37.4},{"i":16,"x":40.4,"y":39.0},{"i":17,"x":41.6,"y":41.3},{"i":18,"x":42.5,"y":43.1},{"i":19,"x":43,"y":45.2},{"i":20,"x":45.8,"y":48.7},{"i":21,"x":46.5,"y":49.3},{"i":22,"x":48.1,"y":50.2}
],
"diag":[{"x":0,"y":0},{"x":50,"y":50}],
"ann1":[{"x":52.8,"y":5.0,"t":"MSTO selection: 0.1 < (g - i) < 0.35"}],
"ann2":[{"x":52.8,"y":5.0,"t":"MSTO selection: 0.1 < (g - i) < 0.35"},{"x":53.3,"y":3.0,"t":"0.58 < (u - g) < 0.9"}]
},
"vconcat":[
{"width":426,"height":428,
"layer":[
{"data":{"name":"top"},"mark":{"type":"square","size":11,"color":"black","opacity":1,"clip":true},
"encoding":{
"x":{"field":"x","type":"quantitative","scale":{"domain":[-5,55],"nice":false,"zero":false},"axis":{"orient":"bottom","values":[0,10,20,30,40,50],"tickSize":-8,"labelPadding":18,"title":"Actual Distances [kpc]","titleY":47,"titleBaseline":"alphabetic"}},
"y":{"field":"y","type":"quantitative","scale":{"domain":[0,50],"nice":false,"zero":false},"axis":{"orient":"left","values":[0,10,20,30,40,50],"tickSize":-8,"labelPadding":14,"labelFlush":true,"title":"Calculated Distances [kpc]","titleX":-45,"titleY":214,"titleAngle":-90,"titleBaseline":"alphabetic"}}}},
{"data":{"name":"topLine"},"mark":{"type":"line","color":"black","strokeWidth":5,"clip":true},
"encoding":{
"x":{"field":"x","type":"quantitative","scale":{"domain":[-5,55],"nice":false,"zero":false},"axis":{"orient":"bottom","values":[-4,-3,-2,-1,0,1,2,3,4,5,6,7,8,9,10,11,12,13,14,15,16,17,18,19,20,21,22,23,24,25,26,27,28,29,30,31,32,33,34,35,36,37,38,39,40,41,42,43,44,45,46,47,48,49,50,51,52,53,54],"tickSize":-4,"labels":false,"title":null}},
"y":{"field":"y","type":"quantitative","scale":{"domain":[0,50],"nice":false,"zero":false},"axis":{"orient":"left","values":[1,2,3,4,5,6,7,8,9,10,11,12,13,14,15,16,17,18,19,20,21,22,23,24,25,26,27,28,29,30,31,32,33,34,35,36,37,38,39,40,41,42,43,44,45,46,47,48,49],"tickSize":-4,"labels":false,"title":null}},
"order":{"field":"i","type":"quantitative"}}},
{"data":{"name":"diag"},"mark":{"type":"line","color":"#ff0000","strokeWidth":5,"strokeDash":[11,7],"clip":true},
"encoding":{
"x":{"field":"x","type":"quantitative","scale":{"domain":[-5,55],"nice":false,"zero":false},"axis":{"orient":"top","values":[0,10,20,30,40,50],"tickSize":-8,"labels":false,"title":null}},
"y":{"field":"y","type":"quantitative","scale":{"domain":[0,50],"nice":false,"zero":false},"axis":{"orient":"right","values":[0,10,20,30,40,50],"tickSize":-8,"labels":false,"title":null}}}},
{"data":{"name":"ann1"},"mark":{"type":"text","align":"right","baseline":"alphabetic","font":"Liberation Sans","fontSize":16,"color":"black"},
"encoding":{
"x":{"field":"x","type":"quantitative","scale":{"domain":[-5,55],"nice":false,"zero":false},"axis":{"orient":"top","values":[-4,-3,-2,-1,0,1,2,3,4,5,6,7,8,9,10,11,12,13,14,15,16,17,18,19,20,21,22,23,24,25,26,27,28,29,30,31,32,33,34,35,36,37,38,39,40,41,42,43,44,45,46,47,48,49,50,51,52,53,54],"tickSize":-4,"labels":false,"title":null}},
"y":{"field":"y","type":"quantitative","scale":{"domain":[0,50],"nice":false,"zero":false},"axis":{"orient":"right","values":[1,2,3,4,5,6,7,8,9,10,11,12,13,14,15,16,17,18,19,20,21,22,23,24,25,26,27,28,29,30,31,32,33,34,35,36,37,38,39,40,41,42,43,44,45,46,47,48,49],"tickSize":-4,"labels":false,"title":null}},
"text":{"field":"t"}}}
],
"resolve":{"axis":{"x":"independent","y":"independent"}}},
{"width":426,"height":428,
"layer":[
{"data":{"name":"bot"},"mark":{"type":"square","size":11,"color":"black","opacity":1,"clip":true},
"encoding":{
"x":{"field":"x","type":"quantitative","scale":{"domain":[-5,55],"nice":false,"zero":false},"axis":{"orient":"bottom","values":[0,10,20,30,40,50],"tickSize":-8,"labelPadding":18,"title":"Actual Distances [kpc]","titleY":47,"titleBaseline":"alphabetic"}},
"y":{"field":"y","type":"quantitative","scale":{"domain":[0,50],"nice":false,"zero":false},"axis":{"orient":"left","values":[0,10,20,30,40,50],"tickSize":-8,"labelPadding":14,"labelFlush":true,"title":"Calculated Distances [kpc]","titleX":-45,"titleY":214,"titleAngle":-90,"titleBaseline":"alphabetic"}}}},
{"data":{"name":"botLine"},"mark":{"type":"line","color":"black","strokeWidth":5,"clip":true},
"encoding":{
"x":{"field":"x","type":"quantitative","scale":{"domain":[-5,55],"nice":false,"zero":false},"axis":{"orient":"bottom","values":[-4,-3,-2,-1,0,1,2,3,4,5,6,7,8,9,10,11,12,13,14,15,16,17,18,19,20,21,22,23,24,25,26,27,28,29,30,31,32,33,34,35,36,37,38,39,40,41,42,43,44,45,46,47,48,49,50,51,52,53,54],"tickSize":-4,"labels":false,"title":null}},
"y":{"field":"y","type":"quantitative","scale":{"domain":[0,50],"nice":false,"zero":false},"axis":{"orient":"left","values":[1,2,3,4,5,6,7,8,9,10,11,12,13,14,15,16,17,18,19,20,21,22,23,24,25,26,27,28,29,30,31,32,33,34,35,36,37,38,39,40,41,42,43,44,45,46,47,48,49],"tickSize":-4,"labels":false,"title":null}},
"order":{"field":"i","type":"quantitative"}}},
{"data":{"name":"diag"},"mark":{"type":"line","color":"#ff0000","strokeWidth":5,"strokeDash":[11,7],"clip":true},
"encoding":{
"x":{"field":"x","type":"quantitative","scale":{"domain":[-5,55],"nice":false,"zero":false},"axis":{"orient":"top","values":[0,10,20,30,40,50],"tickSize":-8,"labels":false,"title":null}},
"y":{"field":"y","type":"quantitative","scale":{"domain":[0,50],"nice":false,"zero":false},"axis":{"orient":"right","values":[0,10,20,30,40,50],"tickSize":-8,"labels":false,"title":null}}}},
{"data":{"name":"ann2"},"mark":{"type":"text","align":"right","baseline":"alphabetic","font":"Liberation Sans","fontSize":16,"color":"black"},
"encoding":{
"x":{"field":"x","type":"quantitative","scale":{"domain":[-5,55],"nice":false,"zero":false},"axis":{"orient":"top","values":[-4,-3,-2,-1,0,1,2,3,4,5,6,7,8,9,10,11,12,13,14,15,16,17,18,19,20,21,22,23,24,25,26,27,28,29,30,31,32,33,34,35,36,37,38,39,40,41,42,43,44,45,46,47,48,49,50,51,52,53,54],"tickSize":-4,"labels":false,"title":null}},
"y":{"field":"y","type":"quantitative","scale":{"domain":[0,50],"nice":false,"zero":false},"axis":{"orient":"right","values":[1,2,3,4,5,6,7,8,9,10,11,12,13,14,15,16,17,18,19,20,21,22,23,24,25,26,27,28,29,30,31,32,33,34,35,36,37,38,39,40,41,42,43,44,45,46,47,48,49],"tickSize":-4,"labels":false,"title":null}},
"text":{"field":"t"}}}
],
"resolve":{"axis":{"x":"independent","y":"independent"}}}
]
}
